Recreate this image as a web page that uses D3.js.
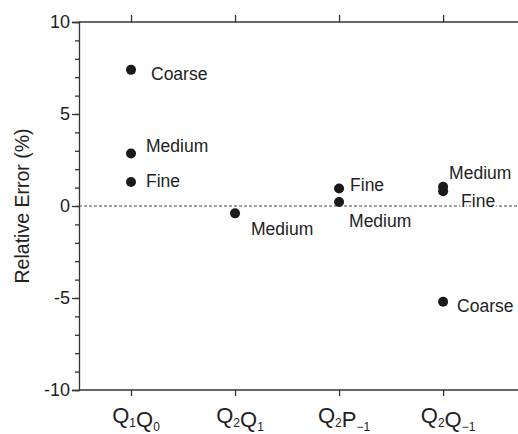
<!DOCTYPE html>
<html>
<head>
<meta charset="utf-8">
<script src="https://cdn.jsdelivr.net/npm/d3@7"></script>
<style>
  body { margin: 0; background: #fff; }
  text { font-family: "Liberation Sans", Arial, sans-serif; fill: #222; }
</style>
</head>
<body>
<div id="chart"></div>
<script>
// categories on the x axis (1-based positions)
const categories = ["Q1Q0", "Q2Q1", "Q2P-1", "Q2Q-1"];
// tick labels: main letter + subscript pairs
const tickLabels = [
  [["Q", "1"], ["Q", "0"]],
  [["Q", "2"], ["Q", "1"]],
  [["Q", "2"], ["P", "\u22121"]],
  [["Q", "2"], ["Q", "\u22121"]]
];
// points: category index, relative error (%), grid name
const pointCategory = [0, 0, 0, 1, 2, 2, 3, 3, 3];
const pointValue = [7.4, 2.85, 1.3, -0.4, 0.95, 0.22, 1.05, 0.8, -5.2];
const pointGrid = ["Coarse", "Medium", "Fine", "Medium", "Fine", "Medium", "Medium", "Fine", "Coarse"];
const yTicks = [-10, -5, 0, 5, 10];

// label placement relative to the dot (px)
const labelOffset = [
  [20, 10], [15, -2], [15, 5], [16, 22], [11, 2], [10, 25], [6, -8], [18, 16], [14, 10]
];

const width = 518, height = 434;
const mLeft = 79, mRight = 518, mTop = 22, mBottom = 390;

const svg = d3.select("#chart").append("svg")
  .attr("width", width)
  .attr("height", height);

const x = d3.scaleLinear().domain([0.5, 4.72]).range([mLeft, mRight]);
const y = d3.scaleLinear().domain([-10, 10]).range([mBottom, mTop]);

// zero line
svg.append("line")
  .attr("x1", mLeft).attr("x2", mRight)
  .attr("y1", y(0)).attr("y2", y(0))
  .attr("stroke", "#444").attr("stroke-width", 1)
  .attr("stroke-dasharray", "3,2");

// left axis with minor ticks
const yMinor = svg.append("g").attr("transform", `translate(${mLeft},0)`)
  .call(d3.axisLeft(y).ticks(20).tickSize(4).tickFormat(""));
yMinor.select(".domain").remove();

const yAxis = svg.append("g").attr("transform", `translate(${mLeft},0)`)
  .call(d3.axisLeft(y).tickValues(yTicks).tickSize(7).tickPadding(2).tickFormat(d => String(d)));
yAxis.attr("font-size", null).attr("font-family", null);
yAxis.selectAll("text").attr("font-size", 18).attr("fill", "#222");

// top and bottom axes
const xTop = svg.append("g").attr("transform", `translate(0,${mTop})`)
  .call(d3.axisTop(x).tickValues([1, 2, 3, 4]).tickSize(7).tickFormat(""));
const xBottom = svg.append("g").attr("transform", `translate(0,${mBottom})`)
  .call(d3.axisBottom(x).tickValues([1, 2, 3, 4]).tickSize(6).tickSizeOuter(0).tickFormat(""));
xTop.select(".domain").attr("d", `M${mLeft},0H${mRight}`);
xBottom.select(".domain").attr("d", `M${mLeft},0H${mRight}`);

svg.selectAll(".domain, .tick line").attr("stroke", "#333").attr("stroke-width", 1.3);

// category labels with subscripts
categories.forEach((c, i) => {
  const t = svg.append("text")
    .attr("x", x(i + 1) + 5)
    .attr("y", mBottom + 33)
    .attr("text-anchor", "middle")
    .attr("font-size", 22);
  tickLabels[i].forEach(([main, sub]) => {
    t.append("tspan").text(main);
    t.append("tspan").attr("font-size", 12).attr("dy", 4).text(sub);
    t.append("tspan").attr("dy", -4).text("");
  });
});

// y axis title
svg.append("text")
  .attr("transform", `translate(29,${y(0)}) rotate(-90)`)
  .attr("text-anchor", "middle")
  .attr("font-size", 19.5)
  .text("Relative Error (%)");

// points
const pts = pointValue.map((v, i) => ({ c: pointCategory[i], v, g: pointGrid[i], o: labelOffset[i] }));

svg.selectAll("circle.pt").data(pts).join("circle")
  .attr("class", "pt")
  .attr("cx", d => x(d.c + 1))
  .attr("cy", d => y(d.v))
  .attr("r", 5)
  .attr("fill", "#1a1a1a");

// white halo so labels break the dashed zero line
svg.selectAll("text.lbl").data(pts).join("text")
  .attr("class", "lbl")
  .attr("x", d => x(d.c + 1) + d.o[0])
  .attr("y", d => y(d.v) + d.o[1])
  .attr("font-size", 17.5)
  .attr("stroke", "#fff")
  .attr("stroke-width", 4)
  .attr("paint-order", "stroke")
  .text(d => d.g);
</script>
</body>
</html>
